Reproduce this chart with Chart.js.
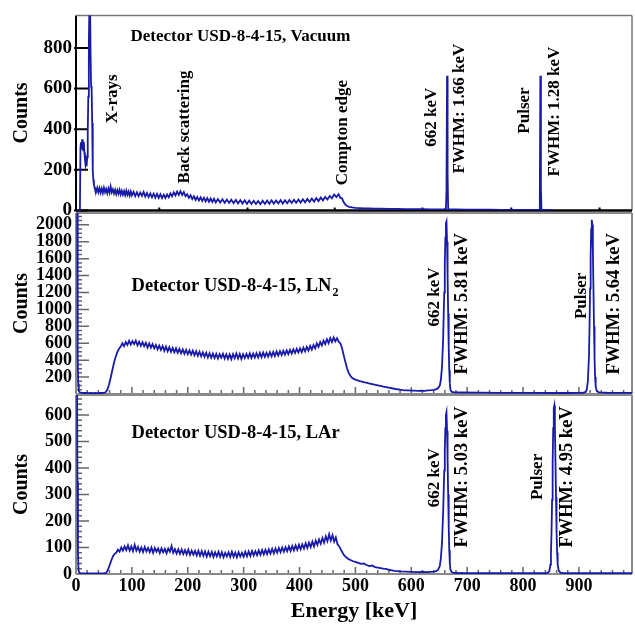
<!DOCTYPE html>
<html><head><meta charset="utf-8">
<script src="https://cdn.jsdelivr.net/npm/chart.js@4"></script>
<style>
html,body{margin:0;padding:0;background:#fff;}
#wrap{position:relative;width:635px;height:628px;}
canvas{position:absolute;left:0;top:0;}
</style></head><body>
<div id="wrap">
<canvas id="cTop" width="635" height="628"></canvas>
<canvas id="cMid" width="635" height="628"></canvas>
<canvas id="cBot" width="635" height="628"></canvas>
</div>
<script>
// ---------- DATA: [energy keV, counts] ----------
const vacuumSpectrum = [[0,0],[7,0],[8,310],[9,335],[10,300],[11,350],[12,322],[13,296],[14,338],[15,285],[16,252],[17,226],[18,244],[19,218],[20,262],[21,385],[22,560],[23,820],[24,1010],[25,1060],[26,790],[27,612],[28,596],[29,430],[30,195],[31,152],[32,128],[33,116],[34,104],[36,92],[38,112],[40,90],[42,110],[44,88],[46,108],[48,86],[50,112],[52,90],[54,106],[56,85],[58,108],[60,88],[62,118],[64,90],[66,104],[68,84],[70,102],[72,80],[74,100],[76,82],[78,102],[80,79],[82,97],[84,78],[86,95],[88,75],[90,98],[92,77],[94,93],[96,73],[98,94],[100,74],[103,92],[106,71],[109,90],[112,70],[115,88],[118,72],[121,91],[124,68],[127,86],[130,66],[133,84],[136,65],[139,83],[142,63],[145,82],[148,62],[151,80],[154,61],[157,78],[160,62],[163,79],[166,65],[169,84],[172,70],[175,89],[178,74],[181,93],[184,77],[187,95],[190,76],[193,91],[196,70],[199,80],[202,62],[205,75],[208,56],[211,70],[214,52],[217,67],[220,49],[223,65],[226,47],[229,63],[232,45],[235,61],[238,43],[241,59],[244,42],[247,58],[250,40],[254,56],[258,39],[262,55],[266,38],[270,54],[274,37],[278,53],[282,36],[286,52],[290,35],[294,51],[298,34],[302,50],[306,33],[310,49],[314,32],[318,48],[322,32],[326,47],[330,31],[334,48],[338,32],[342,49],[346,33],[350,50],[354,34],[358,49],[362,35],[366,51],[370,34],[374,50],[378,36],[382,52],[386,37],[390,53],[394,38],[398,54],[402,39],[406,55],[410,40],[414,57],[418,42],[422,59],[426,44],[430,61],[434,46],[438,64],[442,50],[446,67],[450,54],[454,72],[458,60],[462,79],[466,66],[470,80],[473,62],[476,60],[479,42],[482,29],[485,22],[489,18],[494,15],[500,13],[508,12],[516,10],[525,10],[535,9],[545,9],[560,8],[575,8],[590,7],[605,7],[620,7],[635,6],[650,6],[659,7],[662,9],[663,100],[664,663],[665,180],[666,8],[668,5],[680,5],[700,4],[720,4],[740,4],[760,3],[780,3],[800,3],[820,3],[829,3],[830,60],[831,663],[832,110],[833,4],[840,3],[853,3]];

const ln2Spectrum = [[0.5,5000],[2,2600],[3,450],[4,120],[5,40],[6,24],[8,16],[10,14],[14,12],[18,13],[22,11],[26,12],[30,11],[34,12],[38,11],[42,12],[46,12],[50,14],[53,20],[56,50],[59,110],[62,190],[65,280],[68,370],[71,440],[74,495],[77,535],[80,560],[83,600],[86,565],[89,615],[92,580],[95,630],[98,585],[101,625],[104,590],[107,632],[110,575],[113,618],[116,570],[119,612],[122,565],[125,605],[128,550],[131,598],[134,548],[137,590],[140,540],[143,580],[146,528],[149,572],[152,522],[155,568],[158,510],[161,560],[164,505],[167,552],[170,498],[173,545],[176,492],[179,540],[182,486],[185,532],[188,480],[191,528],[194,476],[197,522],[200,470],[203,515],[206,465],[209,512],[212,458],[215,505],[218,452],[221,500],[224,446],[227,492],[230,440],[233,488],[236,432],[239,482],[242,428],[245,478],[248,425],[251,475],[254,420],[257,472],[260,428],[263,476],[266,418],[269,470],[272,415],[275,468],[278,412],[281,472],[284,422],[287,478],[290,420],[293,474],[296,415],[299,470],[302,425],[305,474],[308,428],[311,480],[314,425],[317,476],[320,430],[323,482],[326,432],[329,486],[332,436],[335,490],[338,440],[341,488],[344,442],[347,494],[350,446],[353,498],[356,450],[359,502],[362,455],[365,506],[368,460],[371,510],[374,466],[377,516],[380,472],[383,522],[386,478],[389,528],[392,484],[395,534],[398,490],[401,540],[404,496],[407,548],[410,504],[413,558],[416,514],[419,568],[422,524],[425,580],[428,540],[431,598],[434,558],[437,615],[440,574],[443,632],[446,590],[449,648],[452,600],[455,662],[458,615],[461,668],[464,622],[467,660],[470,618],[473,600],[476,545],[479,460],[482,380],[485,305],[488,250],[491,215],[494,192],[497,178],[500,170],[504,162],[508,152],[512,146],[516,138],[520,134],[524,126],[528,120],[532,114],[536,108],[540,102],[545,95],[550,88],[555,82],[560,75],[565,68],[570,62],[575,56],[580,51],[585,47],[590,44],[595,42],[600,40],[606,39],[612,38],[618,40],[624,38],[630,42],[636,45],[641,50],[645,58],[648,70],[651,100],[653,170],[655,320],[657,650],[659,1200],[660,1550],[661,1850],[662,2020],[663,2040],[664,1800],[665,1400],[666,950],[667,550],[668,280],[669,120],[670,55],[672,28],[676,20],[690,18],[720,16],[760,14],[800,13],[850,12],[880,12],[900,13],[908,15],[912,24],[914,50],[916,150],[918,450],[919,800],[920,1250],[921,1650],[922,1950],[923,2060],[924,2000],[925,1700],[926,1250],[927,800],[928,420],[929,200],[930,90],[932,35],[936,20],[950,15],[970,14],[995,13]];

const larSpectrum = [[0.5,2500],[1.5,1000],[2.5,350],[3.5,80],[4.5,15],[6,4],[10,2],[20,2],[30,2],[40,2],[50,2],[54,4],[57,15],[60,32],[63,50],[66,66],[69,76],[72,80],[75,92],[78,84],[81,100],[84,88],[87,104],[90,90],[93,108],[96,88],[99,104],[102,86],[105,110],[108,88],[111,102],[114,84],[117,100],[120,83],[123,102],[126,85],[129,98],[132,82],[135,100],[138,80],[141,98],[144,84],[147,96],[150,79],[153,97],[156,82],[159,95],[162,78],[165,96],[168,84],[171,106],[174,80],[177,94],[180,77],[183,93],[186,76],[189,92],[192,75],[195,90],[198,74],[201,92],[204,72],[207,88],[210,73],[213,87],[216,70],[219,88],[222,69],[225,86],[228,68],[231,85],[234,66],[237,84],[240,67],[243,83],[246,64],[249,82],[252,66],[255,84],[258,65],[261,82],[264,63],[267,80],[270,66],[273,82],[276,64],[279,84],[282,65],[285,81],[288,63],[291,82],[294,66],[297,80],[300,65],[303,84],[306,67],[309,85],[312,68],[315,87],[318,70],[321,86],[324,71],[327,89],[330,72],[333,90],[336,74],[339,91],[342,75],[345,93],[348,77],[351,95],[354,78],[357,96],[360,80],[363,98],[366,82],[369,100],[372,84],[375,101],[378,86],[381,104],[384,87],[387,106],[390,89],[393,108],[396,91],[399,110],[402,93],[405,112],[408,96],[411,116],[414,98],[417,118],[420,102],[423,122],[426,104],[429,126],[432,110],[435,130],[438,114],[441,136],[444,118],[447,142],[450,124],[453,150],[456,126],[459,146],[462,122],[465,138],[468,112],[471,104],[474,92],[477,80],[480,70],[484,62],[488,56],[492,52],[496,48],[500,46],[505,42],[510,38],[515,40],[520,34],[525,30],[530,32],[535,26],[540,24],[545,22],[550,20],[555,19],[560,16],[565,14],[570,12],[575,11],[580,10],[590,9],[600,8],[610,7],[620,8],[630,7],[640,9],[645,11],[648,16],[651,30],[653,60],[655,120],[657,230],[659,390],[660,470],[661,550],[662,600],[663,610],[664,540],[665,430],[666,300],[667,180],[668,90],[669,40],[670,18],[672,8],[676,4],[700,3],[750,3],[800,3],[840,3],[844,4],[847,10],[849,35],[850,80],[851,160],[852,280],[853,420],[854,550],[855,625],[856,635],[857,560],[858,430],[859,290],[860,160],[861,80],[862,35],[864,12],[867,5],[872,3],[900,3],[950,3],[995,3]];

// ---------- TICKS ----------
const energyTicks = [0,100,200,300,400,500,600,700,800,900];
const vacuumCountTicks = [0,200,400,600,800];
const ln2CountTicks = [200,400,600,800,1000,1200,1400,1600,1800,2000];
const larCountTicks = [0,100,200,300,400,500,600];
const vacuumAxisMarks = [149,307,463,620,779,937];

// ---------- ANNOTATIONS ----------
const vacuumNotes = [
  {text:'Detector USD-8-4-15, Vacuum', e:97.5, c:858, size:17},
  {text:'X-rays', e:65, c:549, rot:true, size:17},
  {text:'Back scattering', e:194, c:411, rot:true, size:17},
  {text:'Compton edge', e:477, c:383, rot:true, size:17},
  {text:'662 keV', e:636, c:459, rot:true, size:17},
  {text:'FWHM: 1.66 keV', e:686, c:501, rot:true, size:17},
  {text:'Pulser', e:803, c:492, rot:true, size:17},
  {text:'FWHM: 1.28 keV', e:856, c:487, rot:true, size:17}
];
const ln2Notes = [
  {text:'Detector USD-8-4-15, LN', sub:'2', e:99.4, c:1278, size:18.5},
  {text:'662 keV', e:641, c:1148, rot:true, size:17},
  {text:'FWHM: 5.81 keV', e:692, c:1066, rot:true, size:18.5},
  {text:'Pulser', e:905, c:1160, rot:true, size:17},
  {text:'FWHM: 5.64 keV', e:964, c:1066, rot:true, size:18.5}
];
const larNotes = [
  {text:'Detector USD-8-4-15, LAr', e:99.4, c:532, size:18.5},
  {text:'662 keV', e:641, c:363, rot:true, size:17},
  {text:'FWHM: 5.03 keV', e:692, c:366, rot:true, size:18.5},
  {text:'Pulser', e:826, c:366, rot:true, size:17},
  {text:'FWHM: 4.95 keV', e:879, c:366, rot:true, size:18.5}
];

const FONT = "'Liberation Serif','Times New Roman',serif";
const LINE = '#1a1aa8';

function makeDeco(d){
  return {id:'deco', beforeDatasetsDraw(chart){
    const {ctx, chartArea:a, scales:{x,y}} = chart;
    ctx.save();
    const seg=(x1,y1,x2,y2)=>{ctx.moveTo(x1,y1);ctx.lineTo(x2,y2);};
    ctx.strokeStyle=d.tickColor; ctx.lineWidth=d.tickWidth; ctx.beginPath();
    d.yMajor.forEach(v=>{const p=y.getPixelForValue(v); seg(a.left-d.yOut,p,a.left+d.yMajorLen,p);});
    if(d.yMinorStep){
      for(let v=0; v<=y.max; v+=d.yMinorStep){
        if(v % d.yMajorStep===0) continue;
        const p=y.getPixelForValue(v); seg(a.left,p,a.left+d.yMinorLen,p);
      }
    }
    if(d.xMajor){ d.xMajor.forEach(v=>{const p=x.getPixelForValue(v); seg(p,a.bottom,p,a.bottom-d.xMajorLen);}); }
    if(d.xMinorStep){
      for(let v=0; v<=x.max; v+=d.xMinorStep){
        if(v % 100===0) continue;
        const p=x.getPixelForValue(v); seg(p,a.bottom,p,a.bottom-d.xMinorLen);
      }
    }
    ctx.stroke();
    const f=d.frame;
    const sides={left:[a.left,a.top,a.left,a.bottom],right:[a.right,a.top,a.right,a.bottom],top:[a.left,a.top,a.right,a.top],bottom:[a.left,a.bottom,a.right,a.bottom]};
    Object.keys(sides).forEach(k=>{
      ctx.beginPath(); ctx.strokeStyle=f[k][0]; ctx.lineWidth=f[k][1];
      seg(...sides[k]); ctx.stroke();
    });
    ctx.restore();
  }};
}

function makeNotes(list){
  return {id:'notes', afterDatasetsDraw(chart){
    const {ctx, scales:{x,y}} = chart;
    ctx.save(); ctx.fillStyle='#000';
    list.forEach(n=>{
      const px=x.getPixelForValue(n.e), py=y.getPixelForValue(n.c);
      ctx.save(); ctx.translate(px,py);
      ctx.font=`bold ${n.size}px ${FONT}`;
      ctx.textBaseline='middle';
      if(n.rot){ ctx.rotate(-Math.PI/2); ctx.textAlign='center'; ctx.fillText(n.text,0,0); }
      else {
        ctx.textAlign='left'; ctx.fillText(n.text,0,0);
        if(n.sub){ const w=ctx.measureText(n.text).width; ctx.font=`bold ${Math.round(n.size*0.65)}px ${FONT}`; ctx.fillText(n.sub,w+1,7); }
      }
      ctx.restore();
    });
    ctx.restore();
  }};
}

function makeChart(id, spectrum, o){
  const xScale = {type:'linear', min:0, max:995, display:o.showX,
    afterBuildTicks:s=>{s.ticks=energyTicks.map(v=>({value:v}));},
    ticks:{font:{family:FONT,weight:'bold',size:18}, color:'#000', padding:2, maxRotation:0, autoSkip:false, callback:v=>String(v)},
    grid:{display:false, drawTicks:false}, border:{display:false},
    title:{display:true, text:'Energy [keV]', font:{family:FONT,weight:'bold',size:22}, color:'#000', padding:{top:0,bottom:3}}
  };
  if(o.showX) xScale.afterFit = s=>{s.height=o.xHeight;};
  return new Chart(document.getElementById(id), {
    type:'scatter',
    data:{datasets:[{data:spectrum.map(([e,c])=>({x:e,y:c})), showLine:true, borderColor:LINE, borderWidth:o.lw, pointRadius:0, pointHoverRadius:0, tension:0, fill:false}]},
    options:{
      responsive:false, animation:false, events:[],
      layout:{padding:{left:0,right:3,top:o.top,bottom:o.bottom}},
      plugins:{legend:{display:false}, tooltip:{enabled:false}},
      scales:{
        x:xScale,
        y:{min:0, max:o.ymax,
          afterBuildTicks:s=>{s.ticks=o.yTicks.map(v=>({value:v}));},
          afterFit:s=>{s.width=76;},
          ticks:{font:{family:FONT,weight:'bold',size:o.yFont}, color:'#000', padding:4, autoSkip:false, callback:v=>String(v)},
          grid:{display:false, drawTicks:false}, border:{display:false},
          title:{display:true, text:'Counts', font:{family:FONT,weight:'bold',size:20}, color:'#000', padding:{top:10,bottom:0}}
        }
      }
    },
    plugins:[makeDeco(o.deco), makeNotes(o.notes)]
  });
}

const grayFrame = {left:['#8a8a8a',2],right:['#8a8a8a',2],top:['#8a8a8a',2],bottom:['#8a8a8a',2]};

makeChart('cTop', vacuumSpectrum, {top:8, bottom:417.5, showX:false, ymax:960, yTicks:vacuumCountTicks, yFont:19, lw:1.8, notes:vacuumNotes,
  deco:{tickColor:'#000', tickWidth:2, yMajor:vacuumCountTicks, yOut:2, yMajorLen:12, xMajor:vacuumAxisMarks, xMajorLen:3,
        frame:{left:['#000',2],bottom:['#000',2.5],top:['#777',1.5],right:['#777',1.5]}}});

makeChart('cMid', ln2Spectrum, {top:213, bottom:234, showX:false, ymax:2140, yTicks:ln2CountTicks, yFont:18, lw:1.8, notes:ln2Notes,
  deco:{tickColor:'#666', tickWidth:1.5, yMajor:ln2CountTicks, yOut:0, yMajorLen:13, yMajorStep:200, yMinorStep:50, yMinorLen:6,
        xMajor:energyTicks, xMajorLen:7, xMinorStep:20, xMinorLen:4, frame:grayFrame}});

makeChart('cBot', larSpectrum, {top:395, bottom:0, showX:true, xHeight:54, ymax:675, yTicks:larCountTicks, yFont:18, lw:1.8, notes:larNotes,
  deco:{tickColor:'#666', tickWidth:1.5, yMajor:larCountTicks, yOut:0, yMajorLen:13, yMajorStep:100, yMinorStep:20, yMinorLen:6,
        xMajor:energyTicks, xMajorLen:7, xMinorStep:20, xMinorLen:4, frame:grayFrame}});
</script>
</body></html>
